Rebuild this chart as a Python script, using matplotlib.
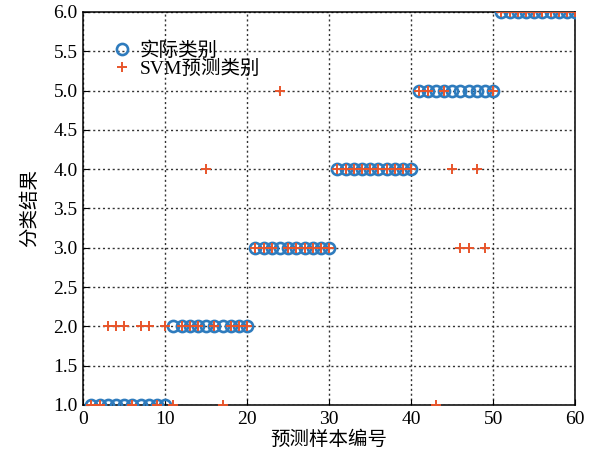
import numpy as np
import matplotlib
matplotlib.use("Agg")
import matplotlib.pyplot as plt
from matplotlib.ticker import MultipleLocator, FormatStrFormatter

plt.rcParams['font.family'] = ['Liberation Serif', 'Noto Sans CJK SC']
plt.rcParams['axes.unicode_minus'] = False

# sample index, true class, SVM predicted class
sample_idx = list(range(1, 61))
actual = [1] * 10 + [2] * 10 + [3] * 10 + [4] * 10 + [5] * 10 + [6] * 10
predicted = [1, 1, 2, 2, 2, 1, 2, 2, 1, 2,
             1, 2, 2, 2, 4, 2, 1, 2, 2, 2,
             3, 3, 3, 5, 3, 3, 3, 3, 3, 3,
             4, 4, 4, 4, 4, 4, 4, 4, 4, 4,
             5, 5, 1, 5, 4, 3, 3, 4, 3, 5,
             6, 6, 6, 6, 6, 6, 6, 6, 6, 6]

fig = plt.figure(figsize=(5.98, 4.61), dpi=100)
ax = fig.add_axes([0.139, 0.1215, 0.823, 0.8525])

ax.plot(sample_idx, actual, 'o', mfc='none', mec='#2e7bbd', ms=8, mew=1.9,
        label='实际类别', zorder=3)
ax.plot(sample_idx, predicted, '+', color='#e8552b', ms=6.5, mew=1.4,
        label='SVM预测类别', zorder=4)

ax.set_xlim(0, 60)
ax.set_ylim(1, 6)
ax.xaxis.set_major_locator(MultipleLocator(10))
ax.yaxis.set_major_locator(MultipleLocator(0.5))
ax.yaxis.set_major_formatter(FormatStrFormatter('%.1f'))
ax.tick_params(direction='in', labelsize=14, length=4, pad=4)
ax.grid(True, linestyle=(0, (1.5, 2)), color='#333333', linewidth=1.0)
for s in ax.spines.values():
    s.set_linewidth(1.1)

ax.set_xlabel('预测样本编号', fontsize=14, labelpad=2)
ax.set_ylabel('分类结果', fontsize=14, labelpad=10)

ax.legend(loc='upper left', frameon=False, fontsize=14, handletextpad=0.3,
          borderaxespad=0.5, labelspacing=0.0, handlelength=1.2,
          bbox_to_anchor=(0.02, 0.97))

fig.savefig('out.png', dpi=100)
